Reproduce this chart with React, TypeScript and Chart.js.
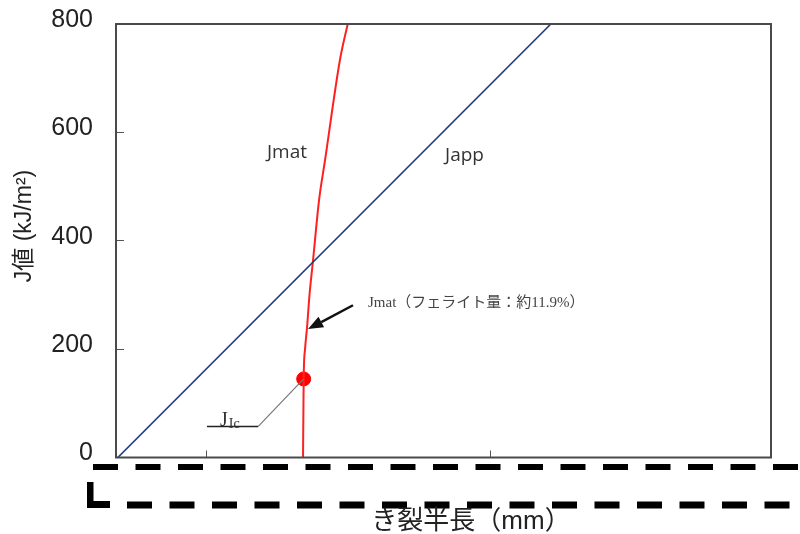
import { useEffect, useRef } from "react";
import { Chart, registerables } from "chart.js";

Chart.register(...registerables);

// ---- data ----
const X_MIN = 0;
const X_MAX = 7.2;
const X_TICKS = [1.0, 4.12];
const Y_MIN = 0;
const Y_MAX = 800;
const Y_STEP = 200;

const JAPP_X = [0.02, 4.78];
const JAPP_Y = [0, 800];

const JMAT_X = [2.056, 2.063, 2.078, 2.1, 2.127, 2.166, 2.232, 2.298, 2.462, 2.547];
const JMAT_Y = [0, 145, 200, 240, 300, 364, 475, 549, 734, 800];

const JIC_X = [2.063];
const JIC_Y = [145];

const Y_TITLE = "J値 (kJ/m²)";
const X_TITLE = "き裂半長（mm）";
const JMAT_LABEL = "Jmat";
const JAPP_LABEL = "Japp";
const NOTE_LABEL = "Jmat（フェライト量：約11.9%）";
const JIC_MAIN = "J";
const JIC_SUB = "Ic";

// annotation anchors (data units)
const JMAT_LABEL_AT = { x: 1.66, y: 562 };
const JAPP_LABEL_AT = { x: 3.617, y: 558 };
const NOTE_AT = { x: 2.77, y: 285 };
const ARROW_FROM = { x: 2.605, y: 281 };
const ARROW_TO = { x: 2.111, y: 237 };
const JIC_LINE_END = { x: 1.561, y: 57 };
const JIC_UNDER_START = { x: 1.0, y: 57 };

const toPts = (xs: number[], ys: number[]) => xs.map((x, i) => ({ x, y: ys[i] }));

const annotPlugin = {
  id: "annot",
  afterDatasetsDraw(chart: any) {
    const { ctx, chartArea } = chart;
    const sx = chart.scales.x;
    const sy = chart.scales.y;
    const px = (v: number) => sx.getPixelForValue(v);
    const py = (v: number) => sy.getPixelForValue(v);
    ctx.save();
    // box border
    ctx.strokeStyle = "#4a4a4a";
    ctx.lineWidth = 2;
    ctx.strokeRect(chartArea.left, chartArea.top, chartArea.right - chartArea.left, chartArea.bottom - chartArea.top);

    // curve labels
    ctx.fillStyle = "#333";
    ctx.font = "19px 'Open Sans', sans-serif";
    ctx.textBaseline = "middle";
    ctx.textAlign = "left";
    ctx.fillText(JMAT_LABEL, px(JMAT_LABEL_AT.x), py(JMAT_LABEL_AT.y));
    ctx.fillText(JAPP_LABEL, px(JAPP_LABEL_AT.x), py(JAPP_LABEL_AT.y));

    // note
    ctx.fillStyle = "#444";
    ctx.font = "15px 'Liberation Serif', 'Noto Sans CJK JP', serif";
    ctx.fillText(NOTE_LABEL, px(NOTE_AT.x), py(NOTE_AT.y));

    // arrow
    const x1 = px(ARROW_FROM.x), y1 = py(ARROW_FROM.y);
    const x2 = px(ARROW_TO.x), y2 = py(ARROW_TO.y);
    const ang = Math.atan2(y2 - y1, x2 - x1);
    const head = 15;
    const hw = 6;
    const bx = x2 - head * Math.cos(ang), by = y2 - head * Math.sin(ang);
    ctx.strokeStyle = "#111";
    ctx.lineWidth = 2.5;
    ctx.beginPath();
    ctx.moveTo(x1, y1);
    ctx.lineTo(bx, by);
    ctx.stroke();
    ctx.fillStyle = "#111";
    ctx.beginPath();
    ctx.moveTo(x2, y2);
    ctx.lineTo(bx + hw * Math.sin(ang), by - hw * Math.cos(ang));
    ctx.lineTo(bx - hw * Math.sin(ang), by + hw * Math.cos(ang));
    ctx.closePath();
    ctx.fill();

    // JIc leader
    ctx.strokeStyle = "#777";
    ctx.lineWidth = 1.2;
    ctx.beginPath();
    ctx.moveTo(px(JIC_X[0]), py(JIC_Y[0]));
    ctx.lineTo(px(JIC_LINE_END.x), py(JIC_LINE_END.y));
    ctx.stroke();
    ctx.strokeStyle = "#222";
    ctx.lineWidth = 1.5;
    ctx.beginPath();
    ctx.moveTo(px(JIC_UNDER_START.x), py(JIC_UNDER_START.y));
    ctx.lineTo(px(JIC_LINE_END.x), py(JIC_LINE_END.y));
    ctx.stroke();
    ctx.fillStyle = "#333";
    ctx.textBaseline = "alphabetic";
    ctx.font = "20px 'Liberation Serif', serif";
    const jx = px(JIC_UNDER_START.x) + 13;
    const jy = py(JIC_UNDER_START.y) - 1;
    ctx.fillText(JIC_MAIN, jx, jy);
    const jw = ctx.measureText(JIC_MAIN).width;
    ctx.font = "14px 'Liberation Serif', serif";
    ctx.fillText(JIC_SUB, jx + jw + 1, jy + 2);
    ctx.restore();
  },
  afterDraw(chart: any) {
    const { ctx } = chart;
    ctx.save();
    // dashed frame lines below the plot
    ctx.strokeStyle = "#000";
    ctx.lineCap = "butt";
    ctx.setLineDash([25, 17.5]);
    ctx.lineWidth = 6;
    ctx.beginPath();
    ctx.moveTo(93, 467);
    ctx.lineTo(800, 467);
    ctx.stroke();
    ctx.lineWidth = 7;
    ctx.lineDashOffset = 0;
    ctx.beginPath();
    ctx.moveTo(127, 505);
    ctx.lineTo(800, 505);
    ctx.stroke();
    ctx.setLineDash([]);
    ctx.fillStyle = "#000";
    ctx.fillRect(87, 482, 6.5, 26);
    ctx.fillRect(87, 501, 23, 7);

    // titles
    ctx.fillStyle = "#222";
    ctx.textAlign = "center";
    ctx.textBaseline = "middle";
    ctx.font = "26px 'Liberation Sans', 'Noto Sans CJK JP', sans-serif";
    ctx.fillText(X_TITLE, 471, 522);
    ctx.translate(25, 226);
    ctx.rotate(-Math.PI / 2);
    ctx.font = "23px 'Liberation Sans', 'Noto Sans CJK JP', sans-serif";
    ctx.fillText(Y_TITLE, 0, 0);
    ctx.restore();
  },
};

export default function App() {
  const ref = useRef<HTMLCanvasElement | null>(null);
  useEffect(() => {
    document.body.style.margin = "0";
    const canvas = ref.current!;
    const chart = new Chart(canvas, {
      type: "scatter",
      data: {
        datasets: [
          {
            label: "Japp",
            data: toPts(JAPP_X, JAPP_Y),
            showLine: true,
            borderColor: "#1f3b7e",
            borderWidth: 1.6,
            pointRadius: 0,
            tension: 0,
          },
          {
            label: "Jmat",
            data: toPts(JMAT_X, JMAT_Y),
            showLine: true,
            borderColor: "#ff2020",
            borderWidth: 2,
            pointRadius: 0,
            cubicInterpolationMode: "monotone",
          },
          {
            label: "JIc",
            data: toPts(JIC_X, JIC_Y),
            showLine: false,
            backgroundColor: "#ff0000",
            borderColor: "#ff0000",
            pointRadius: 7,
          },
        ],
      },
      options: {
        responsive: false,
        animation: false,
        layout: { padding: { top: 24, right: 29, left: 0, bottom: 0 } },
        plugins: { legend: { display: false }, tooltip: { enabled: false } },
        scales: {
          x: {
            type: "linear",
            min: X_MIN,
            max: X_MAX,
            afterBuildTicks: (s: any) => {
              s.ticks = X_TICKS.map((v) => ({ value: v }));
            },
            afterFit: (s: any) => {
              s.height = 76.5;
              s.paddingLeft = 0;
              s.paddingRight = 0;
            },
            ticks: { display: false },
            grid: { drawOnChartArea: false, drawTicks: true, tickLength: -7, color: "#555", lineWidth: 1 },
            border: { display: false },
          },
          y: {
            type: "linear",
            min: Y_MIN,
            max: Y_MAX,
            afterFit: (s: any) => {
              s.width = 116;
              s.paddingTop = 0;
              s.paddingBottom = 0;
            },
            ticks: {
              stepSize: Y_STEP,
              padding: 31,
              labelOffset: -4,
              color: "#222",
              font: { family: "'Liberation Sans', Arial, sans-serif", size: 25 },
            },
            grid: { drawOnChartArea: false, drawTicks: true, tickLength: -8, color: "#555", lineWidth: 1 },
            border: { display: false },
          },
        },
      },
      plugins: [annotPlugin],
    });
    return () => chart.destroy();
  }, []);
  return (
    <div style={{ width: 800, height: 534, background: "#fff" }}>
      <canvas ref={ref} width={800} height={534} style={{ display: "block" }} />
    </div>
  );
}
